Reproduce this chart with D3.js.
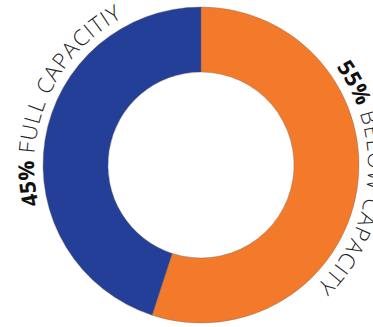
<!DOCTYPE html>
<html>
<head>
<meta charset="utf-8">
<script src="https://cdn.jsdelivr.net/npm/d3@7"></script>
<style>
  html, body { margin: 0; padding: 0; background: #fff; overflow: hidden; }
  .lbl { font-family: 'Open Sans', sans-serif; font-size: 22px; letter-spacing: 1px; }
</style>
</head>
<body>
<div id="chart"></div>
<script>
// data
const categories = ['BELOW CAPACITY', 'FULL CAPACITIY']
const shares = [55, 45]
const colors = ['#f47a2b', '#233f98']

const width = 373
const height = 327
const cx = 201
const cy = 165
const outerR = 158
const innerR = 93
const labelR = 167
// where each label starts, degrees clockwise from 12 o'clock
const labelStart = [54, 256]

const svg = d3.select('#chart')
  .append('svg')
  .attr('width', width)
  .attr('height', height)

const g = svg.append('g')
  .attr('transform', 'translate(' + cx + ',' + cy + ')')

const pie = d3.pie().sort(null).value(d => d)
const arc = d3.arc().innerRadius(innerR).outerRadius(outerR)

g.selectAll('path.slice')
  .data(pie(shares))
  .enter()
  .append('path')
  .attr('class', 'slice')
  .attr('d', arc)
  .attr('fill', (d, i) => colors[i])
  .attr('stroke', '#7a6a60')
  .attr('stroke-width', 0.4)

// circle path for curved labels, starting at the top, going clockwise
const circ = 2 * Math.PI * labelR
g.append('path')
  .attr('id', 'labelpath')
  .attr('d', 'M0,' + (-labelR) +
    ' A' + labelR + ',' + labelR + ' 0 1,1 0,' + labelR +
    ' A' + labelR + ',' + labelR + ' 0 1,1 0,' + (-labelR))
  .attr('fill', 'none')

categories.forEach(function(c, i) {
  const tp = g.append('text')
    .attr('class', 'lbl')
    .append('textPath')
    .attr('href', '#labelpath')
    .attr('startOffset', (labelStart[i] / 360 * circ) + 'px')
  tp.append('tspan')
    .attr('font-weight', 700)
    .attr('fill', '#111')
    .attr('letter-spacing', '0px')
    .text(shares[i] + '%')
  tp.append('tspan')
    .attr('font-weight', 300)
    .attr('fill', '#222')
    .text(' ' + c)
})
</script>
</body>
</html>
